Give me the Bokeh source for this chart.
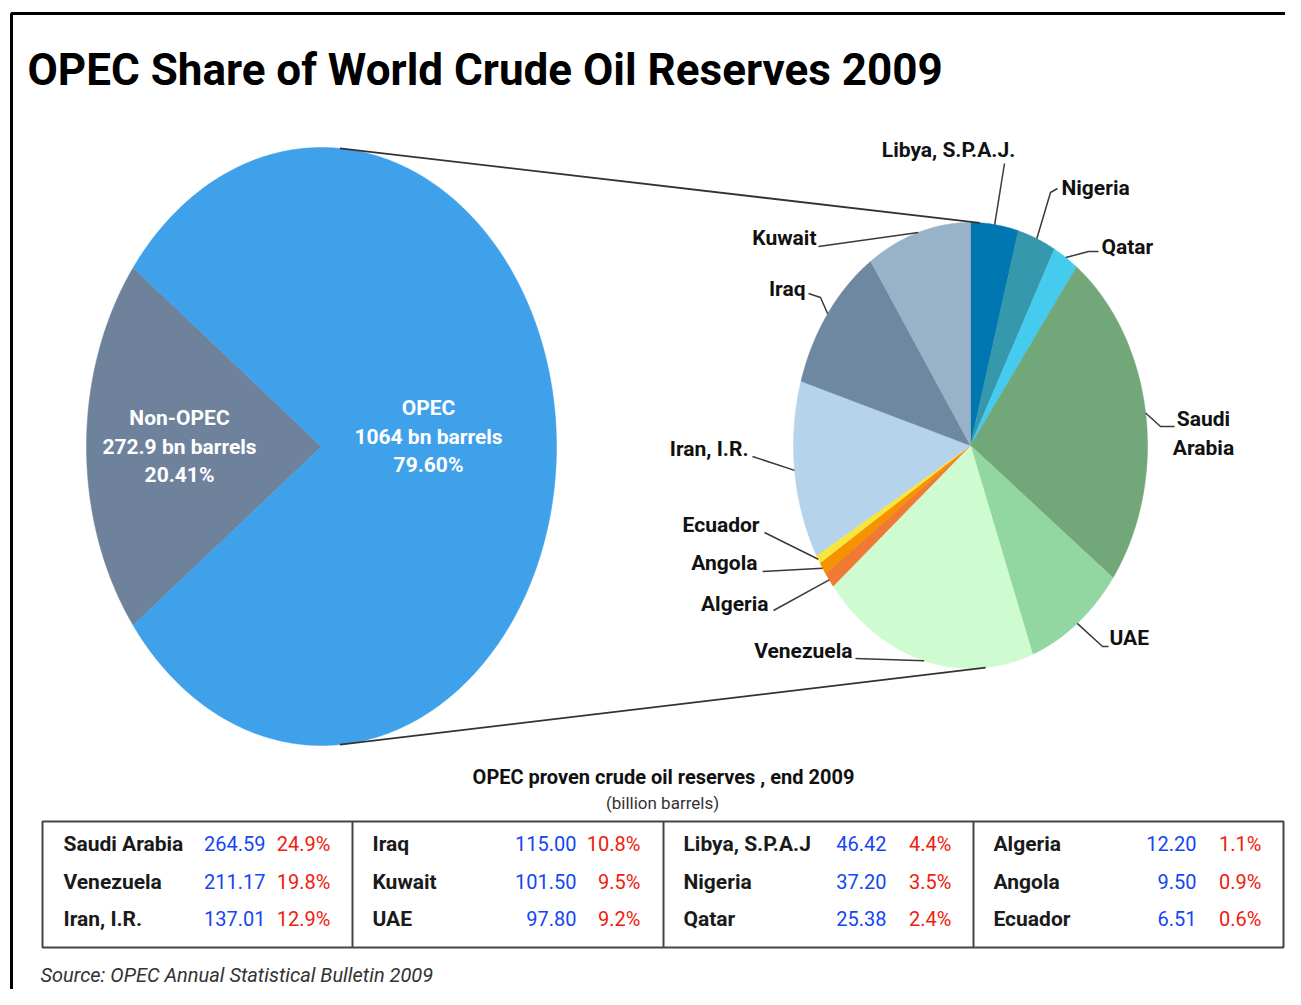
import numpy as np
from bokeh.plotting import figure
from bokeh.models import Range1d
from bokeh.core.properties import value
from bokeh.embed import file_html
from bokeh.resources import INLINE

# ---------------- data ----------------
world_groups = ["Non-OPEC", "OPEC"]
world_reserves = [272.9, 1064.0]
world_value_labels = ["272.9 bn barrels", "1064 bn barrels"]
world_pct_labels = ["20.41%", "79.60%"]

countries = ["Libya, S.P.A.J.", "Nigeria", "Qatar", "Saudi Arabia", "UAE", "Venezuela",
             "Algeria", "Angola", "Ecuador", "Iran, I.R.", "Iraq", "Kuwait"]
reserves = [46.42, 37.20, 25.38, 264.59, 97.80, 211.17, 12.20, 9.50, 6.51, 137.01, 115.00, 101.50]

table_names = ["Saudi Arabia", "Venezuela", "Iran, I.R.",
               "Iraq", "Kuwait", "UAE",
               "Libya, S.P.A.J", "Nigeria", "Qatar",
               "Algeria", "Angola", "Ecuador"]
table_values = ["264.59", "211.17", "137.01",
                "115.00", "101.50", "97.80",
                "46.42", "37.20", "25.38",
                "12.20", "9.50", "6.51"]
table_pcts = ["24.9%", "19.8%", "12.9%",
              "10.8%", "9.5%", "9.2%",
              "4.4%", "3.5%", "2.4%",
              "1.1%", "0.9%", "0.6%"]

title = "OPEC Share of World Crude Oil Reserves 2009"
table_title = "OPEC proven crude oil reserves , end 2009"
table_unit = "(billion barrels)"
source = "Source: OPEC Annual Statistical Bulletin 2009"

# ---------------- styles ----------------
world_colors = ["#6f829c", "#3fa1ea"]
country_colors = ["#0077b0", "#3598ac", "#45cbee", "#72a77a", "#92d6a2", "#cefcd0",
                  "#f07a34", "#f59200", "#f8e63c", "#b5d4ec", "#6f88a2", "#98b3c8"]
FONT = "Roboto"

W, H = 1285, 989


def Y(v):
    # screenshot pixel row -> data y
    return H - v


p = figure(width=W, height=H, x_range=Range1d(0, W), y_range=Range1d(0, H),
           output_backend="svg", toolbar_location=None, x_axis_type=None, y_axis_type=None,
           min_border=0, outline_line_color=None)
p.grid.visible = False
p.background_fill_color = "white"


def ell_wedge(cx, cy, rx, ry, t0, t1):
    n = max(8, int(abs(t1 - t0) * 2))
    t = np.radians(np.linspace(t0, t1, n))
    xs = np.concatenate([[cx], cx + rx * np.cos(t), [cx]])
    ys = np.concatenate([[cy], cy + ry * np.sin(t), [cy]])
    return list(xs), list(ys)


# ---------------- left (world) pie ----------------
L_cx, L_cy, L_rx, L_ry = 321, Y(446), 235, 299
wtot = sum(world_reserves)
half_non = 180.0 * world_reserves[0] / wtot
w_angles = [(180 - half_non, 180 + half_non), (180 + half_non, 540 - half_non)]
wx, wy = [], []
for a0, a1 in w_angles:
    xs, ys = ell_wedge(L_cx, L_cy, L_rx, L_ry, a0, a1)
    wx.append(xs)
    wy.append(ys)
p.patches(wx, wy, fill_color=world_colors, line_color=world_colors, line_width=0.5)

world_label_pos = [(179, 417), (428, 407)]
for i, (lx, ly) in enumerate(world_label_pos):
    lines = [world_groups[i], world_value_labels[i], world_pct_labels[i]]
    p.text(x=[lx] * 3, y=[Y(ly), Y(ly + 29), Y(ly + 57)], text=lines,
           text_color="white", text_font=value(FONT), text_font_style="bold",
           text_font_size="21px", text_align="center", text_baseline="middle")

# ---------------- right (OPEC) pie ----------------
R_cx, R_cy, R_rx, R_ry = 970, Y(445), 177, 223
tot = sum(reserves)
cum = np.concatenate([[0], np.cumsum(reserves)]) / tot
cx_list, cy_list, mids = [], [], []
for i in range(len(reserves)):
    t0 = 90 - 360 * cum[i + 1]
    t1 = 90 - 360 * cum[i]
    xs, ys = ell_wedge(R_cx, R_cy, R_rx, R_ry, t0, t1)
    cx_list.append(xs)
    cy_list.append(ys)
    mids.append(np.radians(0.5 * (t0 + t1)))
p.patches(cx_list, cy_list, fill_color=country_colors, line_color=country_colors, line_width=0.5)

# connector lines between the two pies
for lt, rt in [(85.5, 87.0), (-85.5, -85.1)]:
    a, b = np.radians(lt), np.radians(rt)
    p.line([L_cx + L_rx * np.cos(a), R_cx + R_rx * np.cos(b)],
           [L_cy + L_ry * np.sin(a), R_cy + R_ry * np.sin(b)],
           line_color="#333333", line_width=1.8)

# label layout: text position (px), alignment, leader elbow points (px)
label_layout = {
    "Libya, S.P.A.J.": ((948, 149), "center", [(1004, 163)]),
    "Nigeria": ((1061, 187), "left", [(1050, 192), (1057, 188)]),
    "Qatar": ((1101, 246), "left", [(1088, 251), (1098, 251)]),
    "Saudi Arabia": ((1203, 418), "center", [(1160, 426), (1174, 426)]),
    "UAE": ((1109, 637), "left", [(1102, 646), (1108, 646)]),
    "Venezuela": ((852, 650), "right", [(855, 658)]),
    "Algeria": ((768, 603), "right", [(773, 610)]),
    "Angola": ((757, 562), "right", [(762, 571)]),
    "Ecuador": ((759, 524), "right", [(764, 532)]),
    "Iran, I.R.": ((748, 448), "right", [(752, 456)]),
    "Iraq": ((805, 288), "right", [(820, 297), (808, 293)]),
    "Kuwait": ((816, 237), "right", [(818, 246)]),
}
for i, name in enumerate(countries):
    (tx, ty), align, elbows = label_layout[name]
    ex = R_cx + R_rx * np.cos(mids[i])
    ey = R_cy + R_ry * np.sin(mids[i])
    xs = [ex] + [e[0] for e in elbows]
    ys = [ey] + [Y(e[1]) for e in elbows]
    p.line(xs, ys, line_color="#3a3a3a", line_width=1.5)
    if name == "Saudi Arabia":
        txt = ["Saudi", "Arabia"]
        p.text(x=[tx, tx], y=[Y(ty), Y(ty + 29)], text=txt, text_color="#111111",
               text_font=value(FONT), text_font_style="bold", text_font_size="21px",
               text_align="center", text_baseline="middle")
    else:
        p.text(x=[tx], y=[Y(ty)], text=[name], text_color="#111111",
               text_font=value(FONT), text_font_style="bold", text_font_size="21px",
               text_align=align, text_baseline="middle")

# ---------------- title, border ----------------
p.line([11, 11, W], [Y(1010), Y(13), Y(13)], line_color="black", line_width=3)
p.text(x=[27], y=[Y(69)], text=[title], text_color="black", text_font=value(FONT),
       text_font_style="bold", text_font_size="44px", text_align="left", text_baseline="middle")

# ---------------- table ----------------
p.text(x=[663], y=[Y(776)], text=[table_title], text_color="#111111", text_font=value(FONT),
       text_font_style="bold", text_font_size="20px", text_align="center", text_baseline="middle")
p.text(x=[662], y=[Y(802)], text=[table_unit], text_color="#333333", text_font=value(FONT),
       text_font_size="17px", text_align="center", text_baseline="middle")

p.quad(left=[42], right=[1283], top=[Y(821)], bottom=[Y(947)], fill_color=None,
       line_color="#444444", line_width=2)
dividers = [352, 663, 973]
p.segment(x0=dividers, x1=dividers, y0=[Y(821)] * 3, y1=[Y(947)] * 3,
          line_color="#444444", line_width=2)

name_x = [63, 372, 683, 993]
val_x = [265, 576, 886, 1196]
pct_x = [330, 640, 951, 1261]
row_y = [843, 881, 918]
nx, ny, vx, px_ = [], [], [], []
for c in range(4):
    for r in range(3):
        nx.append(name_x[c])
        vx.append(val_x[c])
        px_.append(pct_x[c])
        ny.append(Y(row_y[r]))
p.text(x=nx, y=ny, text=table_names, text_color="#1a1a1a", text_font=value(FONT),
       text_font_style="bold", text_font_size="21px", text_align="left", text_baseline="middle")
p.text(x=vx, y=ny, text=table_values, text_color="#1446f2", text_font=value(FONT),
       text_font_size="20px", text_align="right", text_baseline="middle")
p.text(x=px_, y=ny, text=table_pcts, text_color="#f0200c", text_font=value(FONT),
       text_font_size="20px", text_align="right", text_baseline="middle")

# ---------------- source ----------------
p.text(x=[40], y=[Y(974)], text=[source], text_color="#333333", text_font=value(FONT),
       text_font_style="italic", text_font_size="20px", text_align="left", text_baseline="middle")

open("out.html", "w").write(file_html(p, INLINE))
